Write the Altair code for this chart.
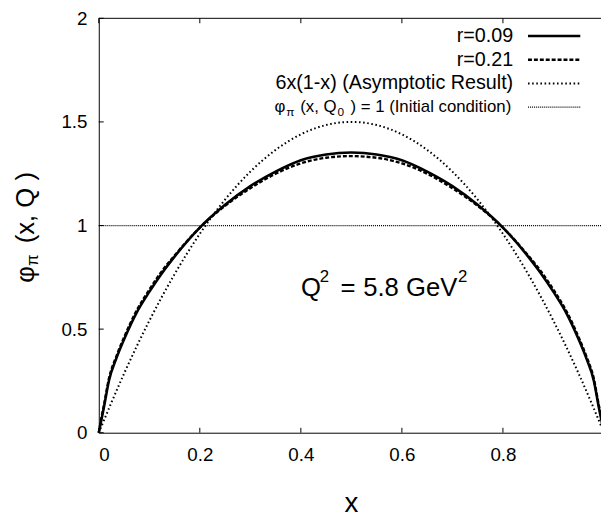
import altair as alt
import pandas as pd

FONT = "Liberation Sans"

# ---- data ----
X = [0, 0.005, 0.01, 0.02, 0.035, 0.05, 0.075, 0.1, 0.125, 0.15, 0.2, 0.25, 0.3, 0.35, 0.4, 0.45, 0.5,
     0.55, 0.6, 0.65, 0.7, 0.75, 0.8, 0.85, 0.875, 0.9, 0.925, 0.95, 0.965, 0.98, 0.99, 0.995, 1]
R009 = [0, 0.06, 0.12, 0.25, 0.36, 0.45, 0.58, 0.68, 0.77, 0.85, 0.99, 1.10, 1.19, 1.26, 1.315, 1.343, 1.352,
        1.343, 1.315, 1.26, 1.19, 1.10, 0.99, 0.85, 0.77, 0.68, 0.58, 0.45, 0.36, 0.25, 0.12, 0.06, 0]
R021 = [0, 0.07, 0.13, 0.26, 0.37, 0.46, 0.59, 0.69, 0.78, 0.855, 0.99, 1.095, 1.18, 1.25, 1.30, 1.327, 1.335,
        1.327, 1.30, 1.25, 1.18, 1.095, 0.99, 0.855, 0.78, 0.69, 0.59, 0.46, 0.37, 0.26, 0.13, 0.07, 0]
X_ASYM = [0, 0.05, 0.1, 0.15, 0.2, 0.25, 0.3, 0.35, 0.4, 0.45, 0.5, 0.55, 0.6, 0.65, 0.7, 0.75, 0.8, 0.85,
          0.9, 0.95, 1]
Y_ASYM = [0, 0.285, 0.54, 0.765, 0.96, 1.125, 1.26, 1.365, 1.44, 1.485, 1.5, 1.485, 1.44, 1.365, 1.26,
          1.125, 0.96, 0.765, 0.54, 0.285, 0]
X_INIT = [0, 1]
Y_INIT = [1, 1]
X_TICKS = [0, 0.2, 0.4, 0.6, 0.8]
Y_TICKS = [0, 0.5, 1, 1.5, 2]
LEGEND = ["r=0.09", "r=0.21", "6x(1-x) (Asymptotic Result)"]

W, H = 509, 420
XR = 512

xs = alt.Scale(domain=[0, 1], range=[0, XR])
ys = alt.Scale(domain=[0, 2])

df9 = pd.DataFrame({"x": X, "y": R009})
df21 = pd.DataFrame({"x": X, "y": R021})
dfa = pd.DataFrame({"x": X_ASYM, "y": Y_ASYM})
dfi = pd.DataFrame({"x": X_INIT, "y": Y_INIT})

xax = alt.Axis(values=X_TICKS, format="~g", ticks=False, grid=False, domainColor="black",
               labelFont=FONT, labelFontSize=19, labelColor="black", labelPadding=13, title=None)
yax = alt.Axis(values=Y_TICKS, format="~g", ticks=False, grid=False, domainColor="black",
               labelFont=FONT, labelFontSize=19, labelColor="black", labelPadding=12, title=None)

base_axes = alt.Chart(dfi).mark_line(color="black", strokeWidth=1.3, strokeDash=[1, 1]).encode(
    x=alt.X("x:Q", scale=xs, axis=xax), y=alt.Y("y:Q", scale=ys, axis=yax))

l9 = alt.Chart(df9).mark_line(color="black", strokeWidth=2.6, interpolate="monotone").encode(
    x=alt.X("x:Q", scale=xs), y=alt.Y("y:Q", scale=ys))
l21 = alt.Chart(df21).mark_line(color="black", strokeWidth=2.4, strokeDash=[4, 2],
                                interpolate="monotone").encode(
    x=alt.X("x:Q", scale=xs), y=alt.Y("y:Q", scale=ys))
la = alt.Chart(dfa).mark_line(color="black", strokeWidth=2, strokeDash=[1.6, 2.6],
                              interpolate="monotone").encode(
    x=alt.X("x:Q", scale=xs), y=alt.Y("y:Q", scale=ys))

# inward ticks and top border
ytk = alt.Chart(pd.DataFrame({"v": Y_TICKS})).mark_rule(color="black", strokeWidth=1).encode(
    y=alt.Y("v:Q", scale=ys), x=alt.value(0), x2=alt.value(5))
xtb = alt.Chart(pd.DataFrame({"v": X_TICKS})).mark_rule(color="black", strokeWidth=1).encode(
    x=alt.X("v:Q", scale=xs), y=alt.value(H), y2=alt.value(H - 5))
xtt = alt.Chart(pd.DataFrame({"v": X_TICKS})).mark_rule(color="black", strokeWidth=1).encode(
    x=alt.X("v:Q", scale=xs), y=alt.value(0), y2=alt.value(5))
top = alt.Chart(pd.DataFrame({"v": [0]})).mark_rule(color="black", strokeWidth=1).encode(
    y=alt.value(0), x=alt.value(0), x2=alt.value(XR))

def txt(s, x, y, size, align="left", angle=0, baseline="middle"):
    return alt.Chart(pd.DataFrame({"t": [s]})).mark_text(
        font=FONT, fontSize=size, align=align, baseline=baseline, angle=angle, color="black").encode(
        text="t:N", x=alt.value(x), y=alt.value(y))

LX = 420
LS = 20
ROWS = [18, 42, 66, 90]
legend_layers = [
    txt(LEGEND[0], LX, ROWS[0], LS, align="right"),
    txt(LEGEND[1], LX, ROWS[1], LS, align="right"),
    txt(LEGEND[2], LX, ROWS[2], LS, align="right"),
    txt("φ", 189, ROWS[3], 17, align="right"),
    txt("π", 190, ROWS[3] + 5, 12),
    txt("(x, Q", 241, ROWS[3], 17, align="right"),
    txt("0", 242, ROWS[3] + 5, 12),
    txt(") = 1 (Initial condition)", 418, ROWS[3], 17, align="right"),
]

def sample(y, width, dash=None, color="black"):
    kw = dict(color=color, strokeWidth=width)
    if dash:
        kw["strokeDash"] = dash
    return alt.Chart(pd.DataFrame({"v": [0]})).mark_rule(**kw).encode(
        x=alt.value(435), x2=alt.value(488), y=alt.value(y))

samples = [
    sample(ROWS[0], 2.6),
    sample(ROWS[1], 2.4, [4, 2]),
    sample(ROWS[2], 2, [1.6, 2.6]),
    sample(ROWS[3], 1.3, [1, 1]),
]

# Q^2 annotation
QB = 281
qlayers = [
    txt("Q", 205, QB, 26, baseline="alphabetic"),
    txt("2", 224, QB - 14, 17, baseline="alphabetic"),
    txt("=", 245, QB, 26, baseline="alphabetic"),
    txt("5.8 GeV", 268, QB, 26, baseline="alphabetic"),
    txt("2", 364, QB - 14, 17, baseline="alphabetic"),
]

# axis titles
ytitle = [
    txt("φ", -74, 268, 26, angle=270),
    txt("π", -67, 251, 17, angle=270),
    txt("(x, Q )", -74, 228, 26, angle=270),
]
xtitle = [txt("x", 256, 500, 28, align="center", baseline="alphabetic")]

chart = alt.layer(
    base_axes, la, l21, l9, ytk, xtb, xtt, top,
    *legend_layers, *samples, *qlayers, *ytitle, *xtitle
).properties(
    width=W, height=H,
    autosize=alt.AutoSizeParams(type="none"),
    padding={"left": 92, "top": 7, "right": 0, "bottom": 85},
).configure_view(stroke=None)

chart.save("out.html", embed_options={"renderer": "svg", "actions": False})
